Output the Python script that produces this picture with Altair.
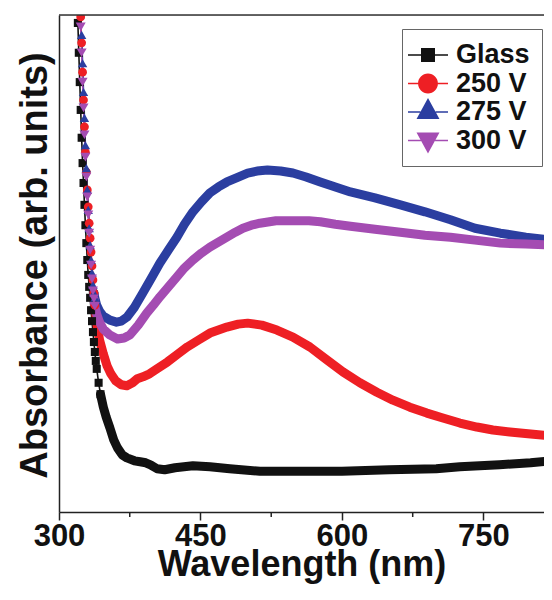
import altair as alt
import pandas as pd

# ---------------- data (arbitrary absorbance units) ----------------
series_names = ["Glass", "250 V", "275 V", "300 V"]
series_colors = ["#111111", "#ee1f24", "#2b3ea0", "#a44cb2"]

glass_wl = [320, 321, 322, 323, 324, 325, 326, 327, 328, 329, 330, 331, 332, 333, 334, 335,
            336, 337, 338, 339, 340, 342, 344, 347, 350, 354, 358, 362, 367, 372, 380, 386,
            392, 397, 404, 412, 423, 442, 460, 481, 513, 555, 600, 650, 700, 725, 767, 800, 822]
glass_abs = [0.984, 0.924, 0.865, 0.809, 0.753, 0.702, 0.662, 0.618, 0.577, 0.541, 0.507, 0.477,
             0.453, 0.431, 0.406, 0.384, 0.362, 0.342, 0.322, 0.304, 0.288, 0.260, 0.237, 0.211,
             0.191, 0.169, 0.145, 0.129, 0.115, 0.109, 0.103, 0.101, 0.099, 0.095, 0.087, 0.085,
             0.089, 0.093, 0.091, 0.087, 0.082, 0.082, 0.082, 0.085, 0.087, 0.091, 0.095, 0.099,
             0.103]

v250_wl = [323, 324, 325, 326, 327, 328, 329, 330, 331, 332, 333, 334, 335, 336, 337, 338, 340,
           343, 347, 351, 355, 360, 366, 372, 378, 383, 389, 396, 404, 415, 426, 436, 448, 460,
           478, 490, 500, 515, 531, 548, 566, 584, 601, 619, 637, 654, 672, 690, 707, 725, 743,
           760, 778, 800, 822]
v250_abs = [0.996, 0.944, 0.885, 0.829, 0.775, 0.724, 0.684, 0.648, 0.614, 0.581, 0.551, 0.523,
            0.495, 0.467, 0.441, 0.416, 0.380, 0.346, 0.318, 0.294, 0.278, 0.264, 0.256, 0.254,
            0.260, 0.268, 0.272, 0.278, 0.288, 0.302, 0.318, 0.332, 0.346, 0.360, 0.372, 0.378,
            0.380, 0.376, 0.366, 0.352, 0.332, 0.306, 0.282, 0.260, 0.241, 0.225, 0.211, 0.199,
            0.189, 0.179, 0.171, 0.165, 0.161, 0.157, 0.153]

v275_wl = [324, 325, 326, 327, 328, 329, 330, 331, 332, 333, 334, 335, 336, 337, 338, 340, 343,
           347, 354, 361, 366, 372, 380, 389, 398, 407, 416, 425, 433, 442, 451, 460, 469, 478,
           490, 500, 510, 521, 535, 548, 562, 577, 593, 609, 635, 662, 688, 715, 741, 768, 795,
           822]
v275_abs = [0.960, 0.903, 0.845, 0.793, 0.738, 0.692, 0.648, 0.608, 0.571, 0.537, 0.507, 0.481,
            0.457, 0.441, 0.431, 0.416, 0.404, 0.394, 0.386, 0.382, 0.384, 0.392, 0.412, 0.441,
            0.471, 0.501, 0.527, 0.553, 0.579, 0.604, 0.624, 0.642, 0.654, 0.664, 0.674, 0.682,
            0.686, 0.688, 0.686, 0.682, 0.674, 0.664, 0.654, 0.644, 0.632, 0.618, 0.604, 0.588,
            0.571, 0.561, 0.553, 0.547]

v300_wl = [323, 324, 325, 326, 327, 328, 329, 330, 331, 332, 333, 334, 335, 336, 337, 338, 340,
           343, 347, 354, 362, 369, 375, 384, 393, 400, 407, 416, 425, 433, 442, 451, 460, 469,
           478, 487, 495, 504, 513, 530, 548, 565, 577, 593, 609, 635, 662, 688, 715, 741, 768,
           795, 822]
v300_abs = [0.976, 0.924, 0.865, 0.813, 0.759, 0.714, 0.674, 0.634, 0.598, 0.561, 0.527, 0.497,
            0.469, 0.445, 0.429, 0.414, 0.398, 0.382, 0.368, 0.356, 0.348, 0.350, 0.356, 0.376,
            0.400, 0.416, 0.433, 0.453, 0.473, 0.491, 0.507, 0.521, 0.533, 0.543, 0.553, 0.563,
            0.571, 0.577, 0.581, 0.586, 0.586, 0.586, 0.584, 0.579, 0.575, 0.569, 0.563, 0.557,
            0.553, 0.547, 0.541, 0.539, 0.537]

x_major_ticks = [300, 450, 600, 750]
x_minor_ticks = [375, 525, 675]

# ---------------- build table ----------------
rows = []
for name, wls, vals in [("Glass", glass_wl, glass_abs), ("250 V", v250_wl, v250_abs),
                        ("275 V", v275_wl, v275_abs), ("300 V", v300_wl, v300_abs)]:
    for w, a in zip(wls, vals):
        rows.append({"series": name, "wl": w, "abs": a})
df = pd.DataFrame(rows)

W, H = 485, 497
FONT = "Liberation Sans"

x_scale = alt.Scale(domain=[300, 814.2], nice=False, zero=False)
y_scale = alt.Scale(domain=[0, 1.0], nice=False, zero=False)
x_axis = alt.Axis(values=x_major_ticks, title="Wavelength (nm)", grid=False,
                  labelFont=FONT, labelFontSize=31, labelFontWeight="bold", labelColor="#111",
                  labelPadding=1, labelFlush=False, labelOverlap=False,
                  tickSize=8, tickWidth=1.5, tickColor="#222",
                  domainColor="#222", domainWidth=1.5,
                  titleFont=FONT, titleFontSize=36, titleFontWeight="bold", titleColor="#111",
                  titleBaseline="alphabetic", titleY=63)
y_axis = alt.Axis(title="Absorbance (arb. units)", labels=False, ticks=False, grid=False,
                  domainColor="#222", domainWidth=1.5,
                  titleFont=FONT, titleFontSize=38, titleFontWeight="bold", titleColor="#111",
                  titleBaseline="alphabetic", titleX=-13, titleY=250)

X = alt.X("wl:Q", scale=x_scale, axis=x_axis)
Y = alt.Y("abs:Q", scale=y_scale, axis=y_axis)
color_scale = alt.Scale(domain=series_names, range=series_colors)

# thin connecting line (visible in the steep part)
thin = alt.Chart(df).mark_line(strokeWidth=1.6, clip=True).encode(
    x=X, y=Y, color=alt.Color("series:N", scale=color_scale, legend=None),
    order=alt.Order("wl:Q"))

# thick band where the dense markers merge
thick = alt.Chart(df).transform_filter(
    "(datum.series == 'Glass' && datum.wl >= 343) || (datum.series != 'Glass' && datum.wl >= 337)"
).mark_line(strokeWidth=9, strokeCap="round", strokeJoin="round", clip=True).encode(
    x=X, y=Y, color=alt.Color("series:N", scale=color_scale, legend=None),
    order=alt.Order("wl:Q"))

# individual markers in the steep part
markers = alt.Chart(df).transform_filter(
    "(datum.series == 'Glass' && datum.wl <= 346) || (datum.series != 'Glass' && datum.wl <= 338)"
).mark_point(filled=True, opacity=1, clip=True).encode(
    x=X, y=Y,
    color=alt.Color("series:N", scale=color_scale, legend=None),
    shape=alt.Shape("series:N", scale=alt.Scale(domain=series_names,
                    range=["square", "circle", "triangle-up", "triangle-down"]), legend=None),
    size=alt.Size("series:N", scale=alt.Scale(domain=series_names, range=[65, 100, 115, 115]),
                  legend=None))

# legend symbols: marker with a line through it
legend_paths = [
    "M-1.43,-0.055H-0.5V0.055H-1.43Z M0.5,-0.055H1.43V0.055H0.5Z M-0.5,-0.5H0.5V0.5H-0.5Z",
    "M-1.43,-0.055H-0.71V0.055H-1.43Z M0.71,-0.055H1.43V0.055H0.71Z "
    "M-0.71,0A0.71,0.71 0 1,1 0.71,0A0.71,0.71 0 1,1 -0.71,0Z",
    "M-1.43,-0.055H-0.547V0.055H-1.43Z M0.547,-0.055H1.43V0.055H0.547Z M0,-1L0.82,0.5H-0.82Z",
    "M-1.43,-0.055H-0.508V0.055H-1.43Z M0.508,-0.055H1.43V0.055H0.508Z M-0.82,-0.57H0.82L0,0.93Z",
]
leg = alt.Legend(title=None, orient="none", legendX=343, legendY=14, direction="vertical",
                 symbolSize=784, symbolStrokeWidth=0, symbolOpacity=1,
                 labelFont=FONT, labelFontSize=27, labelFontWeight="bold", labelColor="#111",
                 labelOffset=14, padding=12, rowPadding=1.5,
                 strokeColor="#666", fillColor="white",
                 labelExpr="datum.label == '275 V' ? '\u00a0275 V' : datum.label")
legend_layer = alt.Chart(df).transform_filter("false").mark_point(filled=True, opacity=1).encode(
    x=X, y=Y,
    color=alt.Color("series:N", scale=color_scale, legend=leg),
    shape=alt.Shape("series:N", scale=alt.Scale(domain=series_names, range=legend_paths),
                    legend=leg))

# minor x ticks
minor = alt.Chart(pd.DataFrame({"wl": x_minor_ticks})).mark_rule(
    color="#222", strokeWidth=1.5).encode(x=X, y=alt.value(H), y2=alt.value(H + 5))

# top frame line
top = alt.Chart(pd.DataFrame({"k": [0]})).mark_rule(color="#333", strokeWidth=1.5).encode(
    x=alt.value(0), x2=alt.value(W), y=alt.value(0))

chart = alt.layer(thin, thick, markers, legend_layer, minor, top).resolve_scale(
    color="independent", shape="independent", size="independent"
).properties(
    width=W, height=H,
    autosize=alt.AutoSizeParams(type="none"),
    padding={"left": 51, "top": 7, "right": 0, "bottom": 78},
).configure_view(stroke=None).configure(background="white")

chart.save("out.html", embed_options={"renderer": "svg", "actions": False})
